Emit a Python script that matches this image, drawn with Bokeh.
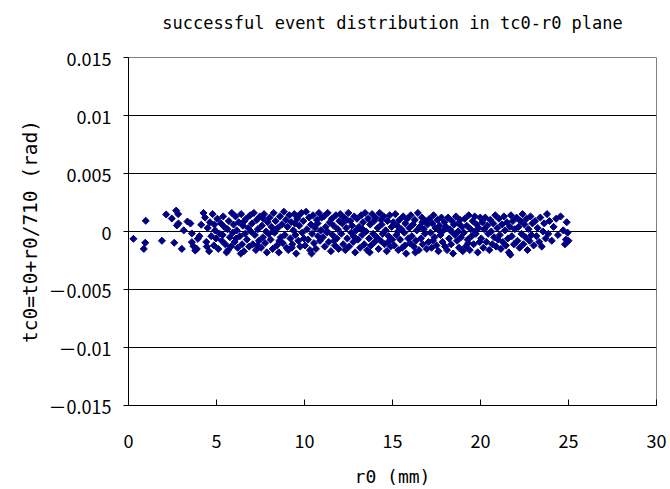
from bokeh.plotting import figure
from bokeh.models import Range1d, FixedTicker, Title
from bokeh.embed import file_html
from bokeh.resources import INLINE
import math

# r0 (mm) and tc0 (rad) of the successful events
r0 = [0.28, 0.87, 0.95, 0.98, 1.9, 2.14, 2.46, 2.6, 2.71, 2.75, 2.82, 2.84, 3.03, 3.14, 3.35, 3.52, 3.6, 3.6, 3.69, 3.79, 3.88, 3.94, 4.03, 4.13, 4.26,
      4.35, 4.42, 4.5, 4.58, 4.63, 4.7, 4.78, 4.85, 4.92, 4.97, 4.45, 4.88,
      5.05, 5.1, 5.18, 5.25, 5.3, 5.38, 5.44, 5.5, 5.57, 5.62, 5.7, 5.76, 5.82, 5.87, 5.92, 5.97, 5.35, 5.66,
      6.03, 6.08, 6.15, 6.2, 6.26, 6.33, 6.4, 6.45, 6.5, 6.56, 6.62, 6.68, 6.73, 6.8, 6.86, 6.91, 6.96, 6.12, 6.58, 6.38,
      7.02, 7.06, 7.12, 7.18, 7.24, 7.29, 7.35, 7.41, 7.47, 7.53, 7.58, 7.64, 7.7, 7.76, 7.82, 7.86, 7.91, 7.96, 7.32, 7.67,
      8.02, 8.07, 8.13, 8.19, 8.25, 8.3, 8.36, 8.43, 8.48, 8.54, 8.6, 8.65, 8.71, 8.77, 8.83, 8.88, 8.94, 8.98, 8.22, 8.57,
      9.03, 9.08, 9.14, 9.2, 9.25, 9.31, 9.37, 9.42, 9.48, 9.53, 9.59, 9.65, 9.7, 9.76, 9.82, 9.87, 9.93, 9.97, 9.28, 9.62, 9.45,
      10.03, 10.09, 10.14, 10.2, 10.26, 10.31, 10.37, 10.43, 10.48, 10.54, 10.6, 10.65, 10.71, 10.77, 10.82, 10.88, 10.93, 10.98, 10.4, 10.74,
      11.04, 11.1, 11.15, 11.21, 11.27, 11.32, 11.38, 11.44, 11.5, 11.55, 11.6, 11.66, 11.72, 11.78, 11.83, 11.89, 11.94, 11.98, 11.3, 11.69,
      12.03, 12.09, 12.15, 12.2, 12.26, 12.32, 12.37, 12.43, 12.49, 12.54, 12.6, 12.66, 12.71, 12.77, 12.83, 12.88, 12.94, 12.98, 12.4, 12.8,
      13.04, 13.1, 13.16, 13.22, 13.27, 13.33, 13.39, 13.44, 13.5, 13.56, 13.61, 13.67, 13.73, 13.78, 13.84, 13.9, 13.95, 13.99, 13.3, 13.7,
      14.04, 14.1, 14.16, 14.21, 14.27, 14.33, 14.38, 14.44, 14.5, 14.55, 14.61, 14.67, 14.72, 14.78, 14.84, 14.89, 14.95, 14.99, 14.35, 14.75,
      15.05, 15.1, 15.16, 15.22, 15.27, 15.33, 15.39, 15.44, 15.5, 15.56, 15.61, 15.67, 15.73, 15.78, 15.84, 15.9, 15.95, 15.99, 15.3, 15.7,
      16.04, 16.1, 16.16, 16.21, 16.27, 16.33, 16.38, 16.44, 16.5, 16.55, 16.61, 16.67, 16.72, 16.78, 16.84, 16.89, 16.95, 16.99, 16.3, 16.7,
      17.05, 17.1, 17.16, 17.22, 17.27, 17.33, 17.39, 17.44, 17.5, 17.56, 17.61, 17.67, 17.73, 17.78, 17.84, 17.9, 17.95, 17.99, 17.3, 17.7,
      18.04, 18.1, 18.16, 18.21, 18.27, 18.33, 18.38, 18.44, 18.5, 18.55, 18.61, 18.67, 18.72, 18.78, 18.84, 18.89, 18.95, 18.99, 18.35, 18.75,
      19.05, 19.1, 19.16, 19.22, 19.27, 19.33, 19.39, 19.44, 19.5, 19.56, 19.61, 19.67, 19.73, 19.78, 19.84, 19.9, 19.95, 19.99, 19.3, 19.7,
      20.04, 20.1, 20.16, 20.21, 20.27, 20.33, 20.38, 20.44, 20.5, 20.55, 20.61, 20.67, 20.72, 20.78, 20.84, 20.89, 20.95, 20.99,
      21.05, 21.1, 21.16, 21.22, 21.27, 21.33, 21.39, 21.44, 21.5, 21.56, 21.61, 21.67, 21.73, 21.78, 21.84, 21.9, 21.95, 21.7,
      22.05, 22.1, 22.16, 22.22, 22.27, 22.33, 22.39, 22.44, 22.5, 22.56, 22.61, 22.67, 22.73, 22.78, 22.84, 22.9, 22.95,
      23.02, 23.1, 23.18, 23.25, 23.33, 23.4, 23.48, 23.55, 23.62, 23.7, 23.78, 23.85, 23.92,
      24.05, 24.15, 24.3, 24.4, 24.55, 24.7, 24.8, 24.85, 24.9, 25.0, 24.95]

tc0 = [-0.00063, -0.0015, -0.00097, 0.00092, -0.0008, 0.00147, 0.00112, -0.00097, 0.0018, 0.00052, 0.0015, 0.00069, -0.0015, 0.0001, 0.00086, 0.00069, -0.00017, -0.00092, -0.00127, -0.00164, -0.0015, -0.00063, -0.0004, 0.00058, 0.0016,
       0.0012, -0.0009, 0.0003, -0.0017, 0.0008, -0.0004, 0.0015, -0.0012, 0.0001, -0.0006, -0.0013, 0.0006,
       0.0011, -0.0015, -0.0002, 0.0007, -0.0008, 0.0013, 0.0004, -0.0011, -0.0018, 0.0002, 0.0009, -0.0005, -0.0013, 0.0016, -0.0001, 0.0006, -0.0003, -0.0016,
       -0.0009, 0.0013, 0.0001, -0.0014, 0.0008, -0.0004, 0.0015, -0.0011, 0.0005, -0.0017, -0.0002, 0.0011, -0.0007, 0.0003, -0.0013, 0.0014, 0.0, -0.0006, 0.0009, -0.0019,
       0.0007, -0.0011, 0.0016, -0.0003, -0.0016, 0.001, 0.0002, -0.0008, 0.0013, -0.0014, 0.0005, -0.0005, 0.0015, -0.001, 0.0, -0.0018, 0.0008, -0.0002, -0.0012, 0.0011,
       0.0012, -0.0007, 0.0004, -0.0015, 0.0016, -0.0001, 0.0009, -0.0012, 0.0003, -0.0018, 0.0013, -0.0005, 0.0006, -0.001, 0.0017, -0.0003, 0.001, -0.0014, 0.0, -0.0008,
       0.0004, -0.0016, 0.0014, -0.0006, 0.0008, -0.0011, 0.0001, 0.0015, -0.0003, -0.0019, 0.0011, -0.0008, 0.0005, -0.0013, 0.0016, -0.0001, 0.0009, -0.0006, -0.0014, 0.0013, 0.0007,
       -0.0012, 0.0017, 0.0002, -0.0007, 0.0012, -0.0016, 0.0006, -0.0002, 0.0014, -0.001, 0.0003, -0.0015, 0.001, -0.0004, 0.0016, -0.0008, 0.0001, 0.0012, -0.0019, 0.0007,
       -0.0005, 0.0013, -0.0013, 0.0004, -0.0001, 0.0016, -0.0009, 0.0008, -0.0017, 0.0011, -0.0003, 0.0005, -0.0012, 0.0014, -0.0006, 0.0002, -0.0015, 0.0009, 0.0, -0.0008,
       0.0015, -0.0002, 0.0007, -0.0011, 0.0012, -0.0016, 0.0003, -0.0006, 0.0016, -0.0013, 0.0009, -0.0001, 0.0005, -0.0009, 0.0013, -0.0018, 0.0001, 0.0011, 0.001, -0.0004,
       -0.0007, 0.0004, -0.0014, 0.0014, -0.0003, 0.0008, -0.0011, 0.0016, 0.0, -0.0016, 0.0011, -0.0006, 0.0006, -0.0012, 0.0015, -0.0002, 0.0009, -0.0009, 0.0002, -0.0018,
       0.0012, -0.0005, 0.0003, -0.0015, 0.0016, -0.0008, 0.0006, -0.0002, 0.0013, -0.0011, 0.0001, -0.0017, 0.0009, -0.0004, 0.0014, -0.0013, 0.0004, -0.0007, 0.001, -0.0009,
       0.0008, -0.0012, 0.0015, -0.0003, 0.0005, -0.0016, 0.001, -0.0007, 0.0002, -0.0014, 0.0013, -0.0001, 0.0007, -0.0019, 0.0011, -0.0006, 0.0003, -0.001, 0.0, -0.0012,
       0.0014, -0.0004, 0.0006, -0.0013, 0.001, -0.0008, 0.0001, 0.0016, -0.0016, 0.0004, -0.0006, 0.0012, -0.0011, 0.0002, -0.0002, 0.0009, -0.0015, 0.0006, -0.0018, 0.0008,
       -0.0009, 0.0011, -0.0001, -0.0014, 0.0007, 0.0014, -0.0005, 0.0003, -0.0012, 0.001, -0.0017, 0.0005, -0.0003, 0.0012, -0.0009, 0.0001, 0.0008, -0.0013, -0.0008, 0.0,
       0.0004, -0.0016, 0.0012, -0.0006, 0.0002, -0.0011, 0.0009, -0.0019, 0.0006, -0.0003, 0.0013, -0.0008, 0.0, -0.0014, 0.001, -0.0005, 0.0004, -0.0017, 0.0, 0.0007,
       -0.0001, 0.0011, -0.0013, 0.0005, -0.0007, 0.0014, -0.0016, 0.0002, -0.0004, 0.0009, -0.0011, 0.0013, -0.0002, 0.0006, -0.0018, 0.0003, -0.0009, 0.0012, -0.001, 0.0,
       -0.0006, 0.0008, -0.0014, 0.0002, 0.0012, -0.0009, 0.0005, -0.0002, -0.0016, 0.001, 0.0, -0.0011, 0.0007, -0.0005, 0.0014, -0.0013, 0.0003, -0.0007,
       0.0011, -0.0003, -0.0015, 0.0006, -0.0009, 0.0013, 0.0001, -0.0012, 0.0008, -0.0006, -0.0018, 0.0004, 0.0014, -0.0004, 0.0009, -0.0011, 0.0002, -0.002,
       0.0012, -0.0008, 0.0004, -0.0014, 0.0009, -0.0002, 0.0015, -0.0011, 0.0006, -0.0005, 0.0011, -0.0016, 0.0002, -0.0008, 0.0013, -0.0003, 0.0007,
       -0.0012, 0.0009, -0.0004, 0.0003, -0.0009, 0.0012, -0.0013, 0.0, 0.0007, -0.0006, 0.0015, -0.0002, 0.0009,
       -0.0008, 0.0004, 0.0011, -0.0003, 0.0013, 0.0001, -0.0011, -0.0007, 0.0008, -0.0008, -0.0001]

x_ticks = [0, 5, 10, 15, 20, 25, 30]
y_ticks = [-0.015, -0.01, -0.005, 0, 0.005, 0.01, 0.015]
y_tick_labels = {-0.015: "\uff0d0.015", -0.01: "\uff0d0.01", -0.005: "\uff0d0.005", 0: "0",
                 0.005: "0.005", 0.01: "0.01", 0.015: "0.015"}
title_text = "successful event distribution in tc0-r0 plane"

p = figure(width=670, height=489, output_backend="svg", toolbar_location=None,
           x_range=Range1d(0, 30), y_range=Range1d(-0.015, 0.015),
           title=None,
           min_border_left=128, min_border_right=14, min_border_top=0, min_border_bottom=0)

# spacer between frame and title (closest to frame), then the real title
spacer = Title(text=" ", standoff=12, text_font_size="1px")
p.add_layout(spacer, "above")
main_title = Title(text=title_text, align="center", text_font="DejaVu Sans Mono",
                   text_font_size="17px", text_font_style="normal", text_color="#000000",
                   standoff=20)
p.add_layout(main_title, "above")

p.outline_line_color = "#808080"
p.outline_line_width = 1
p.background_fill_color = "white"
p.border_fill_color = "white"

p.xgrid.visible = False
p.ygrid.ticker = FixedTicker(ticks=y_ticks)
p.ygrid.grid_line_color = "black"
p.ygrid.grid_line_width = 1

p.xaxis.ticker = FixedTicker(ticks=x_ticks)
p.yaxis.ticker = FixedTicker(ticks=y_ticks)
p.yaxis.major_label_overrides = y_tick_labels

for ax in (p.xaxis, p.yaxis):
    ax.axis_line_color = "black"
    ax.major_tick_line_color = "black"
    ax.minor_tick_line_color = None
    ax.major_label_text_font = "Noto Sans CJK JP"
    ax.major_label_text_font_size = "18px"
    ax.major_label_text_color = "black"
    ax.axis_label_text_font = "DejaVu Sans Mono"
    ax.axis_label_text_font_style = "normal"
    ax.axis_label_text_color = "black"

p.xaxis.major_tick_in = 6
p.xaxis.major_tick_out = 0
p.xaxis.major_label_standoff = 28
p.xaxis.axis_label = "r0 (mm)"
p.xaxis.axis_label_text_font_size = "18px"
p.xaxis.axis_label_standoff = 15

p.yaxis.major_tick_in = 0
p.yaxis.major_tick_out = 5
p.yaxis.major_label_standoff = 12
p.yaxis.axis_label = "tc0=t0+r0/710 (rad)"
p.yaxis.axis_label_text_font_size = "19.5px"
p.yaxis.axis_label_standoff = 4

p.scatter(r0, tc0, marker="square", angle=math.pi / 4, size=5,
          fill_color="#000080", line_color="#000080")

open("out.html", "w").write(file_html(p, INLINE))
